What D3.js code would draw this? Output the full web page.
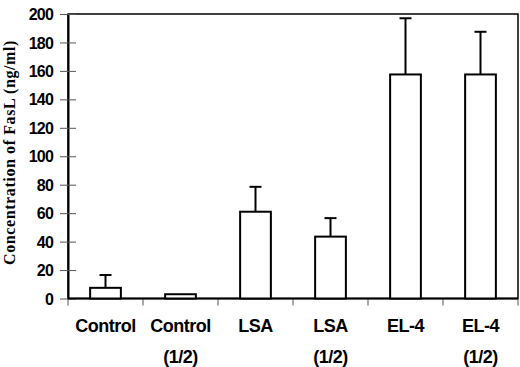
<!DOCTYPE html>
<html><head><meta charset="utf-8">
<script src="https://cdn.jsdelivr.net/npm/d3@7"></script>
<style>body{margin:0;background:#fff}svg{display:block}</style>
</head><body>
<svg id="c" width="520" height="367"></svg>
<script>
const categories = [["Control"], ["Control", "(1/2)"], ["LSA"], ["LSA", "(1/2)"], ["EL-4"], ["EL-4", "(1/2)"]];
const values = [7.5, 3, 61, 43.5, 157.5, 157.5];
const errorTops = [16.5, null, 78.5, 56.5, 197, 187.5];
const yTicks = [0, 20, 40, 60, 80, 100, 120, 140, 160, 180, 200];

const svg = d3.select("#c");
const L = 68, R = 518, T = 14, B = 298.5;
const x = d3.scaleBand().domain(d3.range(categories.length)).range([L, R]).paddingInner(0).paddingOuter(0);
const y = d3.scaleLinear().domain([0, 200]).range([B, T]);
const bw = x.bandwidth() * 0.41;

// frame
svg.append("rect").attr("x", L).attr("y", T).attr("width", R - L).attr("height", B - T)
  .attr("fill", "none").attr("stroke", "#000").attr("stroke-width", 1.5);

// y axis
const ya = svg.append("g").attr("transform", `translate(${L},0)`)
  .call(d3.axisLeft(y).tickValues(yTicks).tickSize(8).tickPadding(7).tickSizeOuter(0));
ya.select(".domain").attr("stroke-width", 2);
ya.selectAll(".tick line").attr("x1", 8).attr("x2", -8).attr("stroke", "#555");
ya.selectAll(".tick text").attr("font-family", "Liberation Sans, Arial, sans-serif")
  .attr("font-weight", "bold").attr("font-size", 16).attr("letter-spacing", -0.8)
  .attr("fill", "#000").attr("dy", "0.35em");

// x axis ticks (category boundaries)
const bounds = d3.range(categories.length + 1).map(i => i < categories.length ? x(i) : R);
svg.selectAll(".xt").data(bounds).join("line")
  .attr("x1", d => d).attr("x2", d => d).attr("y1", B).attr("y2", B + 7)
  .attr("stroke", "#555").attr("stroke-width", 1);
svg.append("line").attr("x1", L).attr("x2", R).attr("y1", B).attr("y2", B)
  .attr("stroke", "#000").attr("stroke-width", 2);

// bars
svg.selectAll(".bar").data(values).join("rect")
  .attr("x", (d, i) => x(i) + x.bandwidth() / 2 - bw / 2)
  .attr("y", d => y(d)).attr("width", bw).attr("height", d => B - y(d))
  .attr("fill", "#fff").attr("stroke", "#000").attr("stroke-width", 2);

// error bars
const eb = svg.selectAll(".eb").data(errorTops.map((e, i) => ({e, i})).filter(d => d.e != null)).join("g");
eb.append("line").attr("x1", d => x(d.i) + x.bandwidth() / 2).attr("x2", d => x(d.i) + x.bandwidth() / 2)
  .attr("y1", d => y(values[d.i])).attr("y2", d => y(d.e)).attr("stroke", "#000").attr("stroke-width", 2);
eb.append("line").attr("x1", d => x(d.i) + x.bandwidth() / 2 - 6).attr("x2", d => x(d.i) + x.bandwidth() / 2 + 6)
  .attr("y1", d => y(d.e)).attr("y2", d => y(d.e)).attr("stroke", "#000").attr("stroke-width", 2);

// x labels
const xl = svg.selectAll(".xl").data(categories).join("text")
  .attr("x", (d, i) => x(i) + x.bandwidth() / 2).attr("y", 332)
  .attr("text-anchor", "middle").attr("font-family", "Liberation Sans, Arial, sans-serif")
  .attr("font-weight", "bold").attr("font-size", 18).attr("letter-spacing", -0.5);
xl.selectAll("tspan").data(d => d).join("tspan")
  .attr("x", function() { return this.parentNode.getAttribute("x"); })
  .attr("dy", (d, j) => j === 0 ? 0 : 31).text(d => d);

// y label
svg.append("text").attr("transform", "translate(15,152.5) rotate(-90)")
  .attr("text-anchor", "middle").attr("font-family", "Liberation Serif, Times New Roman, serif")
  .attr("font-weight", "bold").attr("font-size", 16).attr("letter-spacing", 0.6)
  .text("Concentration of FasL (ng/ml)");
</script>
</body></html>
